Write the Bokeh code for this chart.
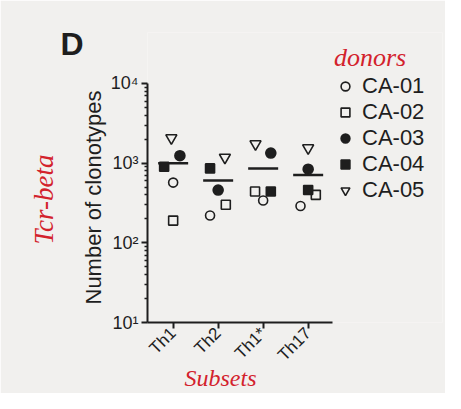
import math
from bokeh.plotting import figure
from bokeh.models import Range1d, FixedTicker, Legend, LegendItem, Title
from bokeh.embed import file_html
from bokeh.resources import INLINE

# ---- data ----
subsets = ["Th1", "Th2", "Th1*", "Th17"]
donors = ["CA-01", "CA-02", "CA-03", "CA-04", "CA-05"]
ca01 = [570, 220, 340, 290]
ca02 = [190, 300, 440, 400]
ca03 = [1240, 460, 1340, 840]
ca04 = [900, 860, 440, 460]
ca05 = [2070, 1180, 1740, 1550]
# horizontal scatter of each donor within a subset (category units)
jit01 = [0.0, -0.18, 0.0, -0.17]
jit02 = [0.0, 0.17, -0.18, 0.17]
jit03 = [0.15, 0.0, 0.17, 0.0]
jit04 = [-0.2, -0.18, 0.17, 0.0]
jit05 = [-0.04, 0.15, -0.17, 0.0]
y_ticks = [10, 100, 1000, 10000]
y_tick_labels = ["10\u00b9", "10\u00b2", "10\u00b3", "10\u2074"]

RED = "#d3222c"
INK = "#1e1e1e"
BG = "#f1f0ee"
FONT = "Liberation Sans"
HAND = "Liberation Serif"

xpos = list(range(1, len(subsets) + 1))
x_axis_span = (0.43, 4.55)
y_axis_span = (10, 10000)

# the plotting area is wider/taller than the axes so that the legend fits inside it
p = figure(width=445, height=393, x_range=Range1d(0.43, 6.985), y_range=Range1d(10, 10 ** 4.64),
           y_axis_type="log", output_backend="svg", toolbar_location=None,
           min_border_left=147, min_border_right=3, min_border_top=32, min_border_bottom=71,
           background_fill_color=BG, border_fill_color=BG)
p.outline_line_color = None
p.grid.visible = False

# title "D"
p.title.text = "D"
p.title.text_font = FONT
p.title.text_font_size = "32px"
p.title.text_font_style = "bold"
p.title.text_color = INK
p.title.align = "left"
p.title.offset = -87
p.title.standoff = -58

# axes
for ax in (p.xaxis[0], p.yaxis[0]):
    ax.axis_line_width = 2
    ax.axis_line_color = INK
    ax.major_tick_line_color = INK
    ax.major_tick_line_width = 2
    ax.minor_tick_line_color = INK
    ax.minor_tick_line_width = 1.5
    ax.major_tick_in = 0
    ax.minor_tick_in = 0
    ax.major_label_text_font = FONT
    ax.major_label_text_color = INK

p.yaxis.bounds = y_axis_span
p.xaxis.bounds = x_axis_span

p.yaxis.ticker = FixedTicker(ticks=y_ticks,
                             minor_ticks=[m * 10 ** k for k in range(1, 4) for m in range(2, 10)])
p.yaxis.major_label_overrides = {t: l for t, l in zip(y_ticks, y_tick_labels)}
p.yaxis.major_label_text_font_size = "18px"
p.yaxis.major_tick_out = 6
p.yaxis.minor_tick_out = 3
p.yaxis.major_label_standoff = 3

p.xaxis.ticker = FixedTicker(ticks=xpos)
p.xaxis.major_label_overrides = {x: s for x, s in zip(xpos, subsets)}
p.xaxis.major_label_orientation = math.pi / 4
p.xaxis.major_label_text_font_size = "17px"
p.xaxis.major_label_standoff = 2
p.xaxis.major_tick_out = 6
p.xaxis.minor_tick_out = 0

# y axis title (as a side title so it can sit on the bounded axis)
p.add_layout(Title(text="Number of clonotypes", text_color=INK, text_font=FONT,
                   text_font_style="normal", text_font_size="22px", align="left",
                   offset=18, standoff=3), "left")
p.add_layout(Title(text="Tcr-beta", text_color=RED, text_font=HAND, text_font_style="italic",
                   text_font_size="27px", align="left", offset=78, standoff=38), "left")
p.add_layout(Title(text="Subsets", text_color=RED, text_font=HAND, text_font_style="italic",
                   text_font_size="24px", align="left", offset=37, standoff=-21,
                   vertical_align="middle"), "below")

# mean lines
means = [sum(v) / len(v) for v in zip(ca01, ca02, ca03, ca04, ca05)]
p.scatter(x=xpos, y=means, marker="dash", size=30, line_width=2.5, line_color=INK)

series = [
    (ca01, jit01, "circle", None, 9),
    (ca02, jit02, "square", None, 9),
    (ca03, jit03, "circle", INK, 10),
    (ca04, jit04, "square", INK, 9),
    (ca05, jit05, "inverted_triangle", None, 11),
]
items = []
for name, (vals, jit, marker, fill, size) in zip(donors, series):
    r = p.scatter(x=[x + j for x, j in zip(xpos, jit)], y=vals, marker=marker, size=size,
                  line_color=INK, line_width=1.6, fill_color=fill if fill else BG)
    items.append(LegendItem(label=name, renderers=[r]))

legend = Legend(items=items, location=(187, 119), title="donors",
                border_line_color=None, background_fill_alpha=0, padding=0, margin=0,
                spacing=0, label_height=20, glyph_height=22, glyph_width=22, label_standoff=6,
                label_text_font=FONT, label_text_font_size="22px", label_text_color=INK,
                title_text_font=HAND, title_text_font_style="italic", title_text_font_size="26px",
                title_text_color=RED, title_standoff=0)
p.add_layout(legend, "center")

open("out.html", "w").write(file_html(p, INLINE))
